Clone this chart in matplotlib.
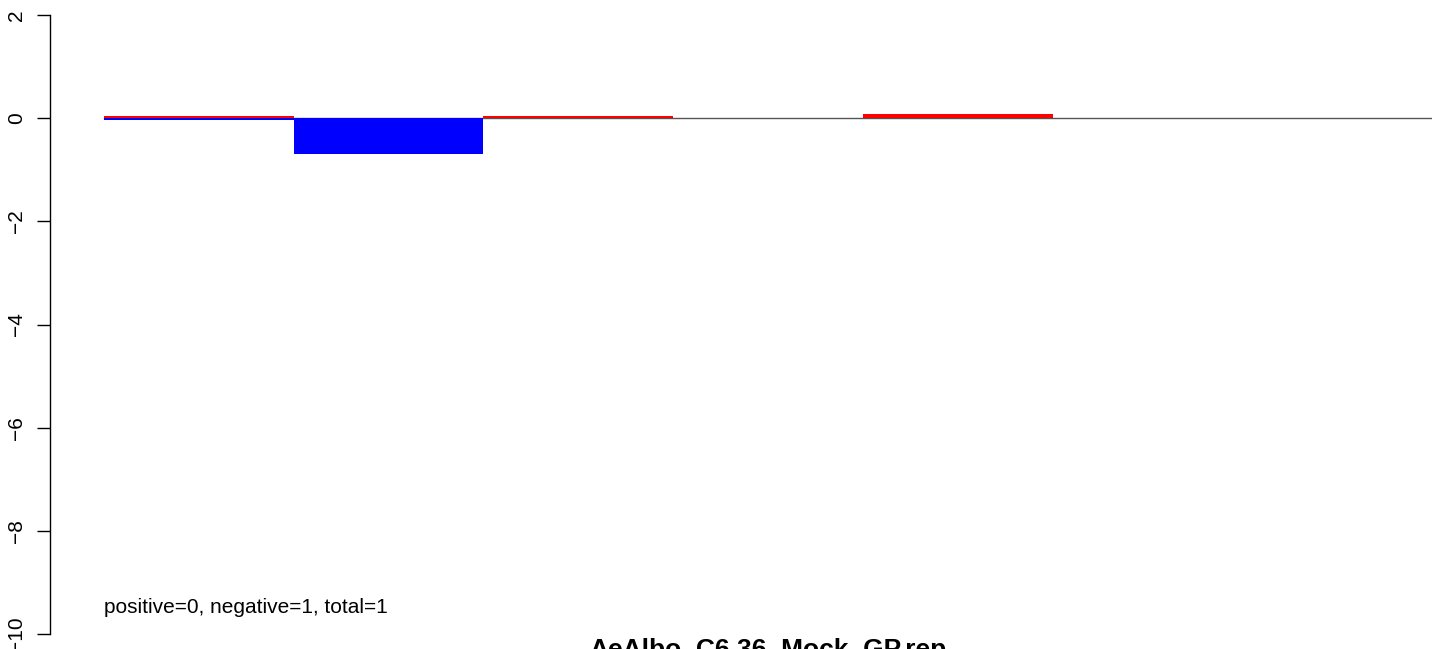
import matplotlib
matplotlib.use("Agg")
import matplotlib.pyplot as plt

# bin values
bins = [0, 1, 2, 3, 4, 5, 6]
pos_values = [0.05, 0.0, 0.04, 0.0, 0.08, 0.0, 0.0]
neg_values = [-0.03, -0.7, 0.0, 0.0, 0.0, 0.0, 0.0]
y_ticks = [2, 0, -2, -4, -6, -8, -10]
title = "AeAlbo_C6.36_Mock_GP.rep"
note = "positive=0, negative=1, total=1"

plt.rcParams["font.family"] = ["Liberation Sans", "DejaVu Sans"]

W, H = 1444, 649
fig = plt.figure(figsize=(W / 100, H / 100), dpi=100)

left_px, right_px = 50, 1432
top_px, bottom_px = 15, 634
ax = fig.add_axes([left_px / W, (H - bottom_px) / H,
                   (right_px - left_px) / W, (bottom_px - top_px) / H])

ax.axhline(0, xmin=(104 - left_px) / (right_px - left_px), xmax=1.0,
           color="#555555", linewidth=1.0, zorder=1)
ax.bar(bins, pos_values, width=1.0, align="edge", color="red",
       linewidth=0, zorder=2)
ax.bar(bins, neg_values, width=1.0, align="edge", color="blue",
       linewidth=0, zorder=2)

px_per_unit = (1432 - 104) / len(bins)
ax.set_xlim(-(104 - left_px) / px_per_unit, len(bins))
ax.set_ylim(-10, 2)

for s in ["top", "right", "bottom"]:
    ax.spines[s].set_visible(False)
ax.spines["left"].set_linewidth(1.0)
ax.set_xticks([])
ax.set_yticks(y_ticks)
ax.set_yticklabels([str(t).replace("-", "\u2212") for t in y_ticks],
                   rotation=90, va="center", fontsize=15)
ax.tick_params(axis="y", length=9.4, width=1.0, pad=8)

ax.text(0, -9.6, note, fontsize=15, ha="left", va="baseline")
fig.text(768 / W, -8 / H, title, fontsize=19, fontweight="bold",
         ha="center", va="baseline")

fig.savefig("out.png", dpi=100)
